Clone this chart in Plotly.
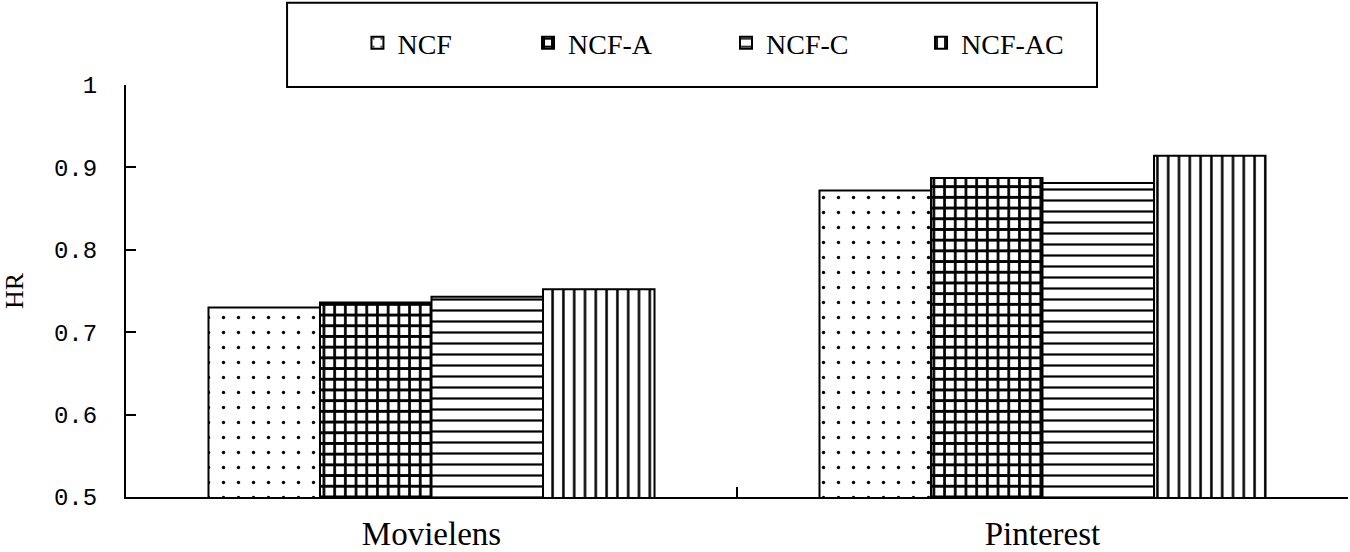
import plotly.graph_objects as go

categories = ["Movielens", "Pinterest"]
series_names = ["NCF", "NCF-A", "NCF-C", "NCF-AC"]
ncf = [0.730, 0.872]
ncf_a = [0.736, 0.887]
ncf_c = [0.743, 0.881]
ncf_ac = [0.752, 0.914]
y_ticks = [0.5, 0.6, 0.7, 0.8, 0.9, 1.0]
y_ticktext = ["0.5", "0.6", "0.7", "0.8", "0.9", "1"]

series_values = [ncf, ncf_a, ncf_c, ncf_ac]
patterns = [
    dict(shape=".", size=15, solidity=0.04),
    dict(shape="+", size=10.7, solidity=0.44),
    dict(shape="-", size=11, solidity=0.2),
    dict(shape="|", size=10.8, solidity=0.23),
]
legend_ids = ["legend", "legend2", "legend3", "legend4"]
legend_x = [0.1894, 0.3290, 0.4910, 0.6506]

fig = go.Figure()
for name, vals, pat, lid in zip(series_names, series_values, patterns, legend_ids):
    fig.add_trace(go.Bar(
        x=categories, y=vals, name=name, legend=lid,
        marker=dict(color="white", line=dict(color="black", width=2),
                    pattern=dict(fgcolor="black", bgcolor="white", fillmode="replace",
                                 fgopacity=1, **pat)),
    ))

legend_style = dict(orientation="h", y=1.102, xanchor="left", yanchor="middle",
                    font=dict(family="Liberation Serif", size=28, color="black"),
                    bgcolor="rgba(0,0,0,0)", itemwidth=30)
layout_legends = {lid: dict(x=lx, **legend_style) for lid, lx in zip(legend_ids, legend_x)}

fig.update_layout(
    width=1350, height=552,
    margin=dict(l=126, r=2, t=85, b=55),
    paper_bgcolor="white", plot_bgcolor="white",
    barmode="group", bargap=0.27, bargroupgap=0,
    showlegend=True,
    shapes=[dict(type="rect", xref="paper", yref="paper", x0=0.1318, x1=0.7946, y0=0.995, y1=1.1995,
                 line=dict(color="black", width=2), fillcolor="rgba(0,0,0,0)", layer="below")],
    **layout_legends,
)

fig.update_xaxes(
    showline=True, linecolor="black", linewidth=2,
    ticks="inside", tickson="boundaries", ticklen=10, tickwidth=2, tickcolor="black",
    tickfont=dict(family="Liberation Serif", size=33, color="black"),
    showgrid=False, zeroline=False, ticklabelstandoff=6, automargin=False,
)
fig.update_yaxes(
    range=[0.5, 1.0], tickvals=y_ticks, ticktext=y_ticktext,
    showline=True, linecolor="black", linewidth=2,
    ticks="inside", ticklen=10, tickwidth=2, tickcolor="black",
    tickfont=dict(family="Liberation Mono", size=24, color="black"),
    ticklabelstandoff=22, automargin=False,
    showgrid=False, zeroline=False,
    title=dict(text="HR", font=dict(family="Liberation Serif", size=26, color="black"), standoff=25),
)

fig.write_html("out.html", config={"displayModeBar": False},
               post_script="document.body.style.margin='0';")
